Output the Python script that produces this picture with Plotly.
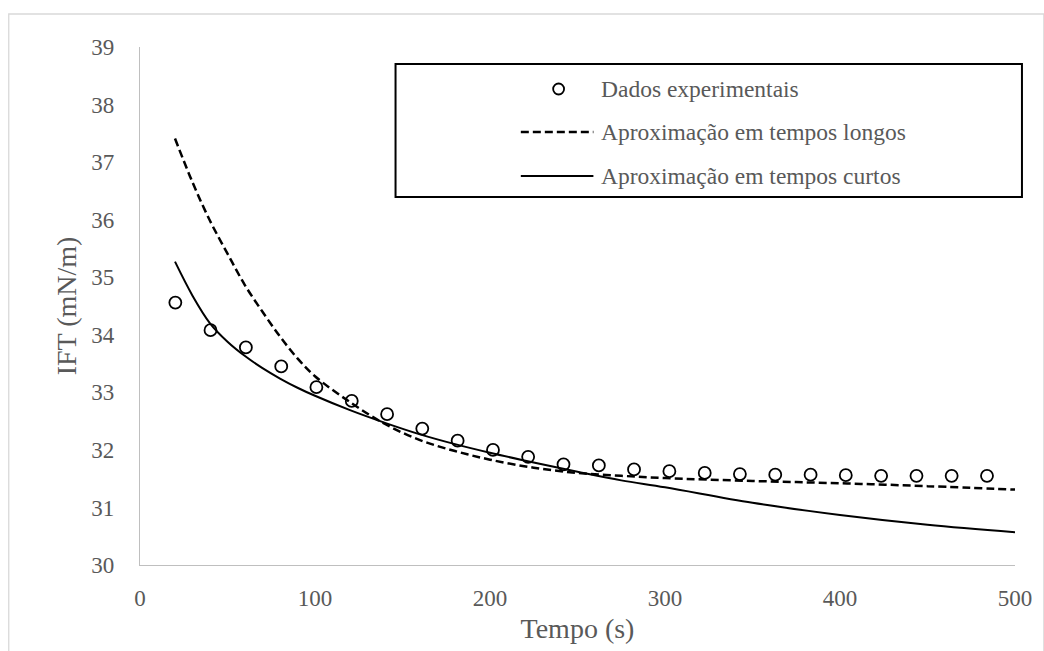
import plotly.graph_objects as go

# Experimental interfacial tension vs. time
t_exp = [20.2, 40.3, 60.5, 80.7, 100.8, 121.0, 141.2, 161.3, 181.5, 201.7, 221.8, 242.0,
         262.2, 282.3, 302.5, 322.7, 342.8, 363.0, 383.2, 403.3, 423.5, 443.7, 463.8, 484.0]
ift_exp = [34.56, 34.08, 33.78, 33.45, 33.09, 32.85, 32.62, 32.37, 32.16, 32.00, 31.88, 31.75,
           31.73, 31.66, 31.63, 31.60, 31.58, 31.57, 31.57, 31.56, 31.55, 31.55, 31.55, 31.55]

# Model curves
t_fit = [20, 30, 40, 50, 60, 70, 80, 90, 100, 120, 140, 160, 180, 200,
         225, 250, 275, 300, 350, 400, 450, 500]
ift_long = [37.41, 36.65, 35.98, 35.41, 34.86, 34.40, 33.97, 33.59, 33.28, 32.83, 32.45, 32.17,
            31.98, 31.83, 31.69, 31.60, 31.55, 31.51, 31.46, 31.42, 31.37, 31.31]
ift_short = [35.27, 34.68, 34.20, 33.88, 33.63, 33.42, 33.24, 33.08, 32.94, 32.69, 32.47, 32.27,
             32.10, 31.95, 31.78, 31.62, 31.47, 31.35, 31.08, 30.87, 30.70, 30.57]

legend_labels = ["Dados experimentais",
                 "Aproximação em tempos longos",
                 "Aproximação em tempos curtos"]

W, H = 1044, 651
L, R, T, B = 140, 1020, 47, 565   # plot area in pixels
FONT = "Liberation Serif"
GREY = "#595959"


def px(x):
    return (x - L) / (R - L)


def py(y):
    return (B - y) / (B - T)


fig = go.Figure()

fig.add_trace(go.Scatter(
    x=t_fit, y=ift_long, mode="lines", line_shape="spline",
    line=dict(color="black", width=2.5, dash="8px,4px"),
    name=legend_labels[1], showlegend=False))
fig.add_trace(go.Scatter(
    x=t_fit, y=ift_short, mode="lines", line_shape="spline",
    line=dict(color="black", width=2),
    name=legend_labels[2], showlegend=False))
fig.add_trace(go.Scatter(
    x=t_exp, y=ift_exp, mode="markers",
    marker=dict(symbol="circle-open", size=12, color="black", line=dict(width=1.8)),
    name=legend_labels[0], showlegend=False))

shapes = []
# outer chart frame
shapes.append(dict(type="rect", xref="paper", yref="paper",
                   x0=px(8), x1=px(W + 5), y0=py(H + 5), y1=py(14),
                   line=dict(color="#d9d9d9", width=1.3), layer="below"))
# legend box
shapes.append(dict(type="rect", xref="paper", yref="paper",
                   x0=px(397), x1=px(1027), y0=py(197), y1=py(64),
                   line=dict(color="black", width=2), fillcolor="white"))
rows = [89, 132, 176]
# legend symbols
shapes.append(dict(type="circle", xref="paper", yref="paper",
                   x0=px(555.5), x1=px(566.5), y0=py(rows[0] + 5.5), y1=py(rows[0] - 5.5),
                   line=dict(color="black", width=1.8)))
shapes.append(dict(type="line", xref="paper", yref="paper",
                   x0=px(523), x1=px(596), y0=py(rows[1]), y1=py(rows[1]),
                   line=dict(color="black", width=2.5, dash="8px,4px")))
shapes.append(dict(type="line", xref="paper", yref="paper",
                   x0=px(523), x1=px(596), y0=py(rows[2]), y1=py(rows[2]),
                   line=dict(color="black", width=2)))

annotations = []
for label, row in zip(legend_labels, rows):
    annotations.append(dict(text=label, xref="paper", yref="paper",
                            x=px(602), y=py(row), xanchor="left", yanchor="middle",
                            showarrow=False,
                            font=dict(family="Liberation Serif", size=23.5, color=GREY)))

fig.update_layout(
    width=W, height=H,
    margin=dict(l=L, r=W - R, t=T, b=H - B),
    paper_bgcolor="white", plot_bgcolor="white",
    shapes=shapes, annotations=annotations,
    font=dict(family=FONT, size=23, color=GREY),
    showlegend=False,
)
fig.update_xaxes(
    range=[0, 500], tickvals=[0, 100, 200, 300, 400, 500],
    showgrid=False, zeroline=False, showline=True, linecolor="#bfbfbf", linewidth=1.3,
    ticks="", ticklabelstandoff=12,
    tickfont=dict(family=FONT, size=23, color=GREY),
    title=dict(text="Tempo (s)", font=dict(family=FONT, size=28, color=GREY), standoff=8),
)
fig.update_yaxes(
    range=[30, 39], tickvals=list(range(30, 40)),
    showgrid=False, zeroline=False, showline=True, linecolor="#bfbfbf", linewidth=1.3,
    ticks="", ticklabelstandoff=20,
    tickfont=dict(family=FONT, size=23, color=GREY),
    title=dict(text="IFT (mN/m)", font=dict(family=FONT, size=28, color=GREY), standoff=6),
)

fig.write_html("out.html")
